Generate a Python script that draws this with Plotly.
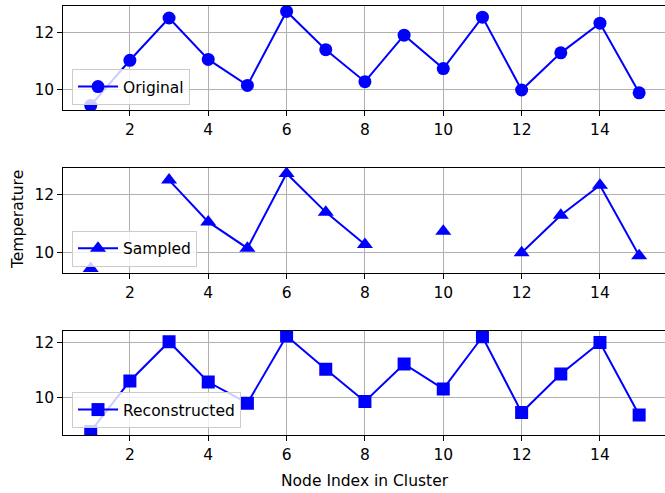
import plotly.graph_objects as go

nodes = list(range(1, 16))
original = [9.44, 11.02, 12.50, 11.05, 10.14, 12.73, 11.39, 10.27, 11.90, 10.73, 12.53, 9.98, 11.28, 12.32, 9.88]
sampled = [9.44, None, 12.50, 11.05, 10.14, 12.73, 11.39, 10.27, None, 10.73, None, 9.98, 11.28, 12.32, 9.88]
reconstructed = [8.75, 10.59, 12.02, 10.55, 9.78, 12.23, 11.02, 9.84, 11.21, 10.30, 12.20, 9.44, 10.84, 11.99, 9.35]
x_ticks = [2, 4, 6, 8, 10, 12, 14]
y_ticks = [10, 12]

W, H = 665, 493
FONT = "DejaVu Sans"
FS = 15.5
BLUE = "#0000ff"

fig = go.Figure()

series = [
    ("Original", original, "circle", 13, "legend"),
    ("Sampled", sampled, "triangle-up", 14, "legend2"),
    ("Reconstructed", reconstructed, "square", 13, "legend3"),
]
for i, (name, ys, sym, msz, leg) in enumerate(series):
    ax = "" if i == 0 else str(i + 1)
    fig.add_trace(go.Scatter(
        x=nodes, y=ys, name=name, mode="lines+markers",
        line=dict(color=BLUE, width=2),
        marker=dict(symbol=sym, size=msz, color=BLUE),
        xaxis="x" + ax, yaxis="y" + ax, legend=leg, showlegend=True,
    ))

# pixel domains (top, bottom)
rows = [(6, 110), (168, 273), (331, 435)]
yranges = [[9.28, 12.92], [9.28, 12.92], [8.62, 12.41]]
x_dom = [63.3 / W, 1.0]

axis_common = dict(
    showline=True, mirror=True, linecolor="black", linewidth=1,
    ticks="outside", ticklen=5, tickwidth=1, tickcolor="black",
    showgrid=True, gridcolor="#b0b0b0", gridwidth=1, zeroline=False,
    tickfont=dict(family=FONT, size=FS, color="black"),
)

layout = dict(
    width=W, height=H, margin=dict(l=0, r=0, t=0, b=0),
    paper_bgcolor="white", plot_bgcolor="white",
    font=dict(family=FONT, size=FS, color="black"),
    showlegend=True,
)
for i, ((top, bot), yr) in enumerate(zip(rows, yranges)):
    ax = "" if i == 0 else str(i + 1)
    layout["xaxis" + ax] = dict(
        axis_common, domain=x_dom, range=[0.3, 15.66],
        tickvals=x_ticks, anchor="y" + ax,
    )
    layout["yaxis" + ax] = dict(
        axis_common, domain=[(H - bot) / H, (H - top) / H], range=yr,
        tickvals=y_ticks, anchor="x" + ax,
    )

legend_tops = [69, 230.7, 392]
for i, t in enumerate(legend_tops):
    key = "legend" if i == 0 else "legend" + str(i + 1)
    layout[key] = dict(
        visible=True,
        x=72 / W, y=(H - t) / H, xanchor="left", yanchor="top",
        bgcolor="rgba(255,255,255,0.8)", bordercolor="#cccccc", borderwidth=1,
        font=dict(family=FONT, size=FS, color="black"),
        itemwidth=40, tracegroupgap=0,
    )

fig.update_layout(**layout)

fig.add_annotation(
    text="Temperature", textangle=-90, xref="paper", yref="paper",
    x=18 / W, y=(H - 220) / H, xanchor="center", yanchor="middle",
    showarrow=False, font=dict(family=FONT, size=FS, color="black"),
)
fig.add_annotation(
    text="Node Index in Cluster", xref="paper", yref="paper",
    x=365 / W, y=(H - 481) / H, xanchor="center", yanchor="middle",
    showarrow=False, font=dict(family=FONT, size=FS, color="black"),
)

fig.write_html("out.html")
